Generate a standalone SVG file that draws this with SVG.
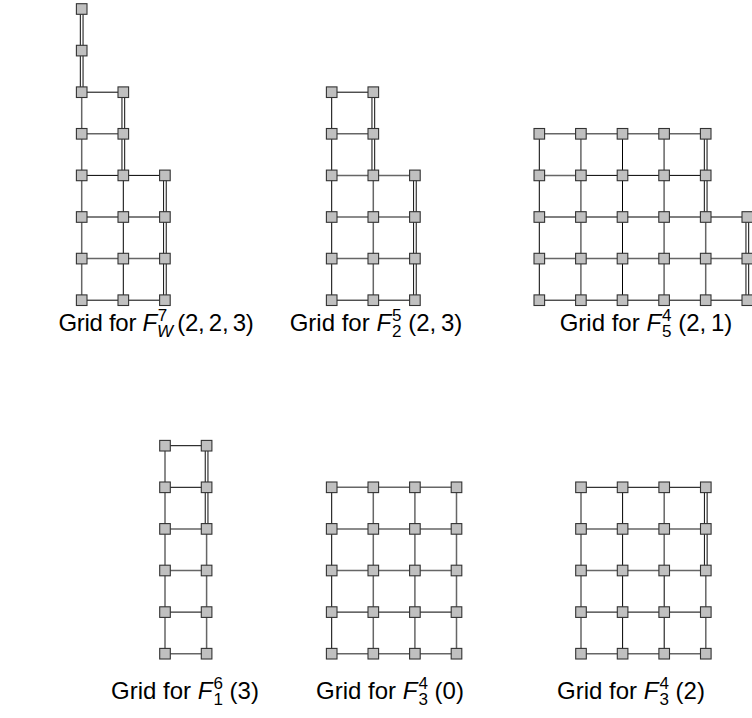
<svg xmlns="http://www.w3.org/2000/svg" xmlns:xlink="http://www.w3.org/1999/xlink" width="752" height="718" viewBox="0 0 752 718">
<style>
.k{fill:none;stroke:#000;stroke-width:1}
.g{fill:none;stroke:#666;stroke-width:1.5}
.d1{fill:none;stroke:#222;stroke-width:3.8}
.d2{fill:none;stroke:#fff;stroke-width:1.6}
.nd{fill:#c0c0c0;stroke:#333;stroke-width:1.1}
.lbl{font-family:"Liberation Sans",Arial,sans-serif;font-size:24px;fill:#000;text-anchor:middle}
.s{font-size:17px}
.it{font-style:italic}
.tight{letter-spacing:-0.3px}
</style>
<defs>
<rect id="nd" class="nd" x="-5.3" y="-5.3" width="10.6" height="10.6"/>
<path id="d-w7" d="M81.7 9V92.2M123.3 92.2V175.4M164.9 175.4V300.2"/>
<path id="d-25" d="M373.3 92.2V175.4M414.9 175.4V300.2"/>
<path id="d-54" d="M705.7 133.8V217M747.3 217V300.2"/>
<path id="d-16" d="M206.6 445.7V528.9"/>
<path id="d-32" d="M705.8 487.3V570.5"/>
</defs>
<g id="connectors">
<path class="k" d="M81.7 92.2H123.3M81.7 175.4H164.9M81.7 217H164.9M81.7 300.2H164.9M123.3 175.4V300.2"/>
<path class="g" d="M81.7 92.2V300.2M81.7 133.8H123.3M81.7 258.6H164.9"/>
<path class="k" d="M331.7 92.2H373.3M331.7 92.2V300.2M331.7 300.2H414.9"/>
<path class="g" d="M331.7 133.8H373.3M331.7 175.4H414.9M331.7 217H414.9M331.7 258.6H414.9M373.3 175.4V300.2"/>
<path class="k" d="M539.3 133.8V300.2M622.5 133.8V300.2M580.9 175.4H705.7M539.3 217H747.3M539.3 300.2H747.3"/>
<path class="g" d="M539.3 133.8H705.7M580.9 133.8V300.2M664.1 133.8V300.2M705.7 217V300.2M539.3 175.4H580.9M539.3 258.6H747.3"/>
<path class="k" d="M165 445.7H206.6M165 487.3H206.6M165 612.1H206.6"/>
<path class="g" d="M165 445.7V653.7M206.6 528.9V653.7M165 528.9H206.6M165 570.5H206.6M165 653.7H206.6"/>
<path class="k" d="M331.7 487.3V653.7M331.7 612.1H456.5"/>
<path class="g" d="M331.7 487.3H456.5M331.7 528.9H456.5M331.7 570.5H456.5M331.7 653.7H456.5M373.3 487.3V653.7M414.9 487.3V653.7M456.5 487.3V653.7"/>
<path class="k" d="M581 487.3H705.8M581 612.1H705.8M622.6 487.3V653.7M664.2 570.5V653.7"/>
<path class="g" d="M581 528.9H705.8M581 570.5H705.8M581 653.7H705.8M581 487.3V653.7M664.2 487.3V570.5M705.8 570.5V653.7"/>
<use href="#d-w7" class="d1"/><use href="#d-w7" class="d2"/>
<use href="#d-25" class="d1"/><use href="#d-25" class="d2"/>
<use href="#d-54" class="d1"/><use href="#d-54" class="d2"/>
<use href="#d-16" class="d1"/><use href="#d-16" class="d2"/>
<use href="#d-32" class="d1"/><use href="#d-32" class="d2"/>
</g>
<g id="grid-w7">
<g id="a-0-0"><use href="#nd" x="81.7" y="9"/></g>
<g id="a-0-1"><use href="#nd" x="81.7" y="50.6"/></g>
<g id="a-0-2"><use href="#nd" x="81.7" y="92.2"/></g>
<g id="a-0-3"><use href="#nd" x="81.7" y="133.8"/></g>
<g id="a-0-4"><use href="#nd" x="81.7" y="175.4"/></g>
<g id="a-0-5"><use href="#nd" x="81.7" y="217"/></g>
<g id="a-0-6"><use href="#nd" x="81.7" y="258.6"/></g>
<g id="a-0-7"><use href="#nd" x="81.7" y="300.2"/></g>
<g id="a-1-2"><use href="#nd" x="123.3" y="92.2"/></g>
<g id="a-1-3"><use href="#nd" x="123.3" y="133.8"/></g>
<g id="a-1-4"><use href="#nd" x="123.3" y="175.4"/></g>
<g id="a-1-5"><use href="#nd" x="123.3" y="217"/></g>
<g id="a-1-6"><use href="#nd" x="123.3" y="258.6"/></g>
<g id="a-1-7"><use href="#nd" x="123.3" y="300.2"/></g>
<g id="a-2-4"><use href="#nd" x="164.9" y="175.4"/></g>
<g id="a-2-5"><use href="#nd" x="164.9" y="217"/></g>
<g id="a-2-6"><use href="#nd" x="164.9" y="258.6"/></g>
<g id="a-2-7"><use href="#nd" x="164.9" y="300.2"/></g>
</g>
<g id="grid-25">
<g id="b-0-2"><use href="#nd" x="331.7" y="92.2"/></g>
<g id="b-0-3"><use href="#nd" x="331.7" y="133.8"/></g>
<g id="b-0-4"><use href="#nd" x="331.7" y="175.4"/></g>
<g id="b-0-5"><use href="#nd" x="331.7" y="217"/></g>
<g id="b-0-6"><use href="#nd" x="331.7" y="258.6"/></g>
<g id="b-0-7"><use href="#nd" x="331.7" y="300.2"/></g>
<g id="b-1-2"><use href="#nd" x="373.3" y="92.2"/></g>
<g id="b-1-3"><use href="#nd" x="373.3" y="133.8"/></g>
<g id="b-1-4"><use href="#nd" x="373.3" y="175.4"/></g>
<g id="b-1-5"><use href="#nd" x="373.3" y="217"/></g>
<g id="b-1-6"><use href="#nd" x="373.3" y="258.6"/></g>
<g id="b-1-7"><use href="#nd" x="373.3" y="300.2"/></g>
<g id="b-2-4"><use href="#nd" x="414.9" y="175.4"/></g>
<g id="b-2-5"><use href="#nd" x="414.9" y="217"/></g>
<g id="b-2-6"><use href="#nd" x="414.9" y="258.6"/></g>
<g id="b-2-7"><use href="#nd" x="414.9" y="300.2"/></g>
</g>
<g id="grid-54">
<g id="c-0-3"><use href="#nd" x="539.3" y="133.8"/></g>
<g id="c-0-4"><use href="#nd" x="539.3" y="175.4"/></g>
<g id="c-0-5"><use href="#nd" x="539.3" y="217"/></g>
<g id="c-0-6"><use href="#nd" x="539.3" y="258.6"/></g>
<g id="c-0-7"><use href="#nd" x="539.3" y="300.2"/></g>
<g id="c-1-3"><use href="#nd" x="580.9" y="133.8"/></g>
<g id="c-1-4"><use href="#nd" x="580.9" y="175.4"/></g>
<g id="c-1-5"><use href="#nd" x="580.9" y="217"/></g>
<g id="c-1-6"><use href="#nd" x="580.9" y="258.6"/></g>
<g id="c-1-7"><use href="#nd" x="580.9" y="300.2"/></g>
<g id="c-2-3"><use href="#nd" x="622.5" y="133.8"/></g>
<g id="c-2-4"><use href="#nd" x="622.5" y="175.4"/></g>
<g id="c-2-5"><use href="#nd" x="622.5" y="217"/></g>
<g id="c-2-6"><use href="#nd" x="622.5" y="258.6"/></g>
<g id="c-2-7"><use href="#nd" x="622.5" y="300.2"/></g>
<g id="c-3-3"><use href="#nd" x="664.1" y="133.8"/></g>
<g id="c-3-4"><use href="#nd" x="664.1" y="175.4"/></g>
<g id="c-3-5"><use href="#nd" x="664.1" y="217"/></g>
<g id="c-3-6"><use href="#nd" x="664.1" y="258.6"/></g>
<g id="c-3-7"><use href="#nd" x="664.1" y="300.2"/></g>
<g id="c-4-3"><use href="#nd" x="705.7" y="133.8"/></g>
<g id="c-4-4"><use href="#nd" x="705.7" y="175.4"/></g>
<g id="c-4-5"><use href="#nd" x="705.7" y="217"/></g>
<g id="c-4-6"><use href="#nd" x="705.7" y="258.6"/></g>
<g id="c-4-7"><use href="#nd" x="705.7" y="300.2"/></g>
<g id="c-5-5"><use href="#nd" x="747.3" y="217"/></g>
<g id="c-5-6"><use href="#nd" x="747.3" y="258.6"/></g>
<g id="c-5-7"><use href="#nd" x="747.3" y="300.2"/></g>
</g>
<g id="grid-16">
<g id="d-0-0"><use href="#nd" x="165" y="445.7"/></g>
<g id="d-0-1"><use href="#nd" x="165" y="487.3"/></g>
<g id="d-0-2"><use href="#nd" x="165" y="528.9"/></g>
<g id="d-0-3"><use href="#nd" x="165" y="570.5"/></g>
<g id="d-0-4"><use href="#nd" x="165" y="612.1"/></g>
<g id="d-0-5"><use href="#nd" x="165" y="653.7"/></g>
<g id="d-1-0"><use href="#nd" x="206.6" y="445.7"/></g>
<g id="d-1-1"><use href="#nd" x="206.6" y="487.3"/></g>
<g id="d-1-2"><use href="#nd" x="206.6" y="528.9"/></g>
<g id="d-1-3"><use href="#nd" x="206.6" y="570.5"/></g>
<g id="d-1-4"><use href="#nd" x="206.6" y="612.1"/></g>
<g id="d-1-5"><use href="#nd" x="206.6" y="653.7"/></g>
</g>
<g id="grid-30">
<g id="e-0-1"><use href="#nd" x="331.7" y="487.3"/></g>
<g id="e-0-2"><use href="#nd" x="331.7" y="528.9"/></g>
<g id="e-0-3"><use href="#nd" x="331.7" y="570.5"/></g>
<g id="e-0-4"><use href="#nd" x="331.7" y="612.1"/></g>
<g id="e-0-5"><use href="#nd" x="331.7" y="653.7"/></g>
<g id="e-1-1"><use href="#nd" x="373.3" y="487.3"/></g>
<g id="e-1-2"><use href="#nd" x="373.3" y="528.9"/></g>
<g id="e-1-3"><use href="#nd" x="373.3" y="570.5"/></g>
<g id="e-1-4"><use href="#nd" x="373.3" y="612.1"/></g>
<g id="e-1-5"><use href="#nd" x="373.3" y="653.7"/></g>
<g id="e-2-1"><use href="#nd" x="414.9" y="487.3"/></g>
<g id="e-2-2"><use href="#nd" x="414.9" y="528.9"/></g>
<g id="e-2-3"><use href="#nd" x="414.9" y="570.5"/></g>
<g id="e-2-4"><use href="#nd" x="414.9" y="612.1"/></g>
<g id="e-2-5"><use href="#nd" x="414.9" y="653.7"/></g>
<g id="e-3-1"><use href="#nd" x="456.5" y="487.3"/></g>
<g id="e-3-2"><use href="#nd" x="456.5" y="528.9"/></g>
<g id="e-3-3"><use href="#nd" x="456.5" y="570.5"/></g>
<g id="e-3-4"><use href="#nd" x="456.5" y="612.1"/></g>
<g id="e-3-5"><use href="#nd" x="456.5" y="653.7"/></g>
</g>
<g id="grid-32">
<g id="f-0-1"><use href="#nd" x="581" y="487.3"/></g>
<g id="f-0-2"><use href="#nd" x="581" y="528.9"/></g>
<g id="f-0-3"><use href="#nd" x="581" y="570.5"/></g>
<g id="f-0-4"><use href="#nd" x="581" y="612.1"/></g>
<g id="f-0-5"><use href="#nd" x="581" y="653.7"/></g>
<g id="f-1-1"><use href="#nd" x="622.6" y="487.3"/></g>
<g id="f-1-2"><use href="#nd" x="622.6" y="528.9"/></g>
<g id="f-1-3"><use href="#nd" x="622.6" y="570.5"/></g>
<g id="f-1-4"><use href="#nd" x="622.6" y="612.1"/></g>
<g id="f-1-5"><use href="#nd" x="622.6" y="653.7"/></g>
<g id="f-2-1"><use href="#nd" x="664.2" y="487.3"/></g>
<g id="f-2-2"><use href="#nd" x="664.2" y="528.9"/></g>
<g id="f-2-3"><use href="#nd" x="664.2" y="570.5"/></g>
<g id="f-2-4"><use href="#nd" x="664.2" y="612.1"/></g>
<g id="f-2-5"><use href="#nd" x="664.2" y="653.7"/></g>
<g id="f-3-1"><use href="#nd" x="705.8" y="487.3"/></g>
<g id="f-3-2"><use href="#nd" x="705.8" y="528.9"/></g>
<g id="f-3-3"><use href="#nd" x="705.8" y="570.5"/></g>
<g id="f-3-4"><use href="#nd" x="705.8" y="612.1"/></g>
<g id="f-3-5"><use href="#nd" x="705.8" y="653.7"/></g>
</g>
<g id="labels">
<text class="lbl tight" x="156" y="331">Grid for <tspan class="it">F</tspan><tspan class="s" dx="1" dy="-10">7</tspan><tspan class="s it" dx="-10" dy="16">W</tspan><tspan dy="-6">&#8201;(2,&#8201;2,&#8201;3)</tspan></text>
<text class="lbl" x="376" y="331">Grid for <tspan class="it">F</tspan><tspan class="s" dx="1" dy="-10">5</tspan><tspan class="s" dx="-9.5" dy="16">2</tspan><tspan dy="-6"> (2,&#8201;3)</tspan></text>
<text class="lbl" x="646" y="331">Grid for <tspan class="it">F</tspan><tspan class="s" dx="1" dy="-10">4</tspan><tspan class="s" dx="-9.5" dy="16">5</tspan><tspan dy="-6"> (2,&#8201;1)</tspan></text>
<text class="lbl" x="185" y="699">Grid for <tspan class="it">F</tspan><tspan class="s" dx="1" dy="-10">6</tspan><tspan class="s" dx="-9.5" dy="16">1</tspan><tspan dy="-6"> (3)</tspan></text>
<text class="lbl" x="390" y="699">Grid for <tspan class="it">F</tspan><tspan class="s" dx="1" dy="-10">4</tspan><tspan class="s" dx="-9.5" dy="16">3</tspan><tspan dy="-6"> (0)</tspan></text>
<text class="lbl" x="631" y="699">Grid for <tspan class="it">F</tspan><tspan class="s" dx="1" dy="-10">4</tspan><tspan class="s" dx="-9.5" dy="16">3</tspan><tspan dy="-6"> (2)</tspan></text>
</g>
</svg>
